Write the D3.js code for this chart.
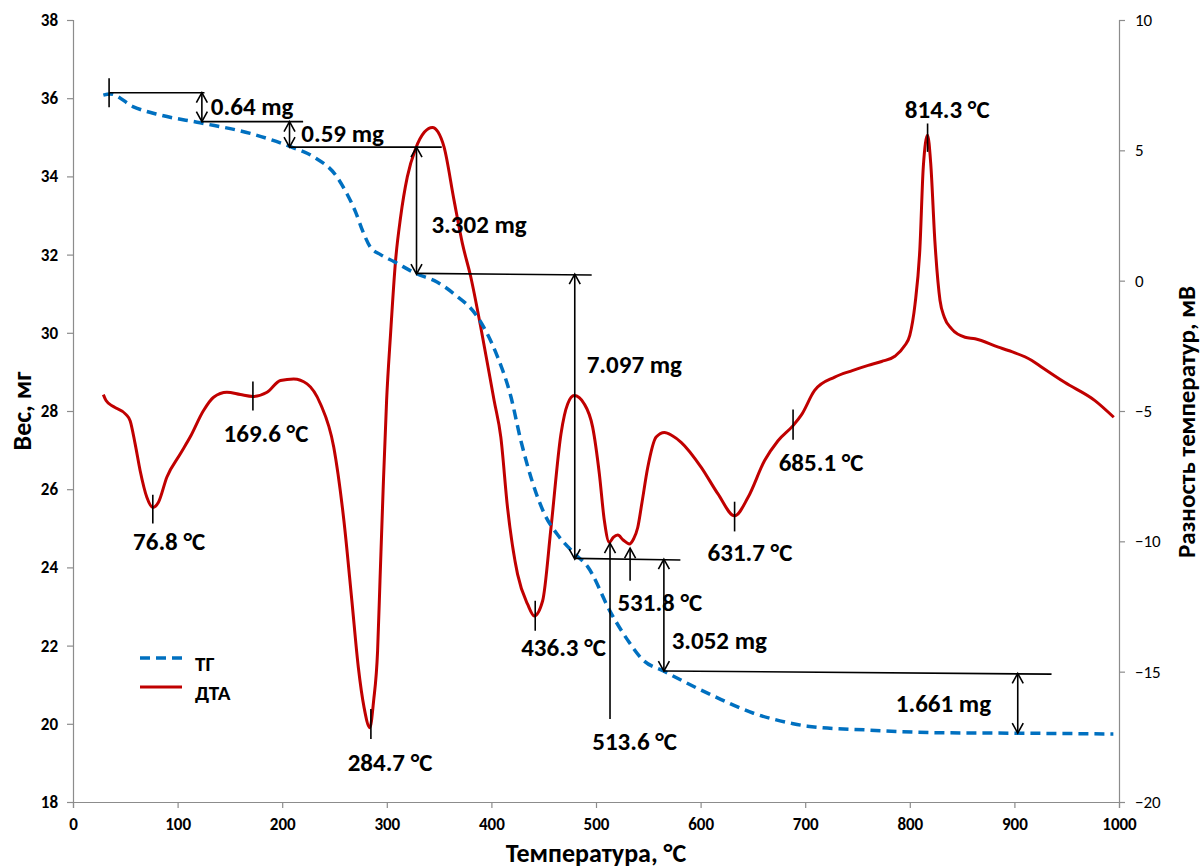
<!DOCTYPE html>
<html><head><meta charset="utf-8">
<script src="https://cdn.jsdelivr.net/npm/d3@7"></script>
<style>
body{margin:0;background:#fff}
text{font-family:Carlito,Calibri,Lato,sans-serif}
</style>
</head><body><div id="chart"></div>
<script>
// ТГ curve: temperature (°C) and weight (mg)
var tgT = [29,35.4,57.8,83.3,121.6,169.5,207.9,230,252,262,270,277,284,294,307,327.6,348,364,386.6,405.8,418.6,428,450.5,464.6,479.2,492,514.4,530.3,545,564.6,614,650.6,687.3,702,760.5,833.7,903,994.6];
var tgW = [36.08,36.11,35.78,35.57,35.37,35.1,34.76,34.5,34.0,33.55,33.1,32.6,32.2,32.0,31.82,31.52,31.3,31.0,30.41,29.39,28.37,27.26,25.38,24.79,24.36,24.02,22.83,22.14,21.63,21.35,20.69,20.27,20.01,19.94,19.84,19.77,19.76,19.74];

// ДТА curve: temperature (°C) and signal (mV)
var dtaT = [29,31.6,38.6,50.8,54.6,59.4,64.2,70.6,76.3,81.7,89.7,102.5,112,124.8,134.4,147.2,160,172,185.5,198.3,211,223.8,236.6,249.3,259,266.6,272.8,278.3,283.8,287.4,291.2,293.5,296.5,299.8,303.6,308.4,313.2,319.6,327.6,336,343.6,349,354.7,364.3,372.3,380.3,389.8,402.6,409,415.4,425,434.6,441,449,457,466.5,472.9,479.2,488.8,496.8,503.2,508,512.7,516.5,520.8,526,531.9,536,539.9,544,549.5,557.5,565.4,573,581.4,600.6,616.6,632.5,645.4,661.2,674,688.4,696.4,709,728.2,745,760.2,773,785.7,795,800,805,809.6,812.9,817,820,824,828.9,833,840,852.8,862.4,884.7,894.3,916.7,926.2,948,977,995];
var dtaV = [-4.37,-4.6,-4.83,-5.14,-5.37,-6.26,-7.29,-8.31,-8.7,-8.5,-7.54,-6.65,-6.0,-4.98,-4.47,-4.28,-4.37,-4.44,-4.28,-3.83,-3.77,-3.96,-4.73,-6.39,-9.21,-12.28,-14.84,-16.38,-17.15,-16.12,-14.2,-11.5,-8.0,-4.6,-2.04,0.78,2.44,3.98,5.07,5.7,5.88,5.7,5.13,3.08,1.42,0.14,-1.78,-4.6,-6.0,-8.7,-11.26,-12.41,-12.86,-12.28,-9.47,-5.88,-4.73,-4.41,-4.73,-5.62,-7.41,-9.21,-10.04,-9.85,-9.76,-9.95,-10.1,-9.9,-9.47,-8.5,-7.16,-6.0,-5.82,-5.95,-6.2,-7.16,-8.18,-9.02,-8.31,-6.9,-6.14,-5.56,-5.15,-4.21,-3.7,-3.45,-3.25,-3.1,-2.9,-2.5,-2.1,-0.9,1.2,4.36,5.58,4.5,1.5,-0.76,-1.4,-1.85,-2.17,-2.23,-2.55,-2.68,-3.06,-3.32,-3.9,-4.6,-5.24];

var xTicks = [0,100,200,300,400,500,600,700,800,900,1000];
var wTicks = [18,20,22,24,26,28,30,32,34,36,38];
var vTicks = [-20,-15,-10,-5,0,5,10];

// weight-loss steps (mg levels on the ТГ axis)
var stepT1 = [34.5,123,207,328.5,479.9,565];
var stepT2 = [125.7,220,352.5,495.9,580.7,935.5];
var stepW1 = [36.14,35.40,34.75,31.52,24.23,21.35];
var stepW2 = [36.14,35.40,34.75,31.48,24.19,21.27];
var arrowT = [123.2,207,328.4,479.7,564.9,903.2];
var arrowTop = [36.14,35.40,34.75,31.50,24.21,21.29];
var arrowBot = [35.40,34.75,31.50,24.21,21.35,19.76];
var stepText = ["0.64 mg","0.59 mg","3.302 mg","7.097 mg","3.052 mg","1.661 mg"];
var stepTextT = [131.8,218.3,342.7,491.1,572.3,786.6];
var stepTextW = [35.78,35.10,32.76,29.2,22.14,20.53];

// peak markers on the ДТА axis
var markT = [76.3,172,284.8,441.9,632.5,688.4,817];
var markTop = [-8.21,-3.87,-16.43,-12.28,-8.48,-4.94,6.03];
var markBot = [-9.32,-4.98,-17.58,-13.43,-9.62,-6.1,4.94];
var upT = [513.4,532.6];
var upFrom = [-16.82,-11.51];
var upTo = [-10.07,-10.26];
var peakText = ["76.8 °C","169.6 °C","284.7 °C","436.3 °C","513.6 °C","531.8 °C","631.7 °C","685.1 °C","814.3 °C"];
var peakT = [91.9,184.5,303.1,469,537,561,647.2,715.2,835.8];
var peakV = [-10.0,-5.87,-18.5,-14.09,-17.66,-12.35,-10.43,-6.97,6.57];

var W = 1200, H = 868;
var m = {left:73, right:81, top:20, bottom:66};

var svg = d3.select("#chart").append("svg")
            .attr("width", W)
            .attr("height", H);

var x = d3.scaleLinear().domain([0,1000]).range([m.left, W-m.right]);
var yW = d3.scaleLinear().domain([18,38]).range([H-m.bottom, m.top]);
var yV = d3.scaleLinear().domain([-20,10]).range([H-m.bottom, m.top]);

var axisCol = "#8c8c8c";

function styleAxis(g, weight){
  g.selectAll("path,line").attr("stroke", axisCol).attr("stroke-width", 1.2);
  g.selectAll("text").attr("fill","#000")
   .style("font-size","17px").style("font-weight", weight)
   .style("font-family","Carlito,Calibri,Lato,sans-serif");
}

var gx = svg.append("g").attr("transform","translate(0,"+(H-m.bottom)+")")
  .call(d3.axisBottom(x).tickValues(xTicks).tickFormat(d3.format("d")).tickSizeOuter(0).tickSize(6).tickPadding(10));
styleAxis(gx, "600");

var gl = svg.append("g").attr("transform","translate("+m.left+",0)")
  .call(d3.axisLeft(yW).tickValues(wTicks).tickSizeOuter(0).tickSize(6).tickPadding(9));
styleAxis(gl, "bold");

var gr = svg.append("g").attr("transform","translate("+(W-m.right)+",0)")
  .call(d3.axisRight(yV).tickValues(vTicks).tickSizeOuter(0).tickSize(6).tickPadding(10));
styleAxis(gr, "normal");

// axis titles
svg.append("text").text("Температура, °С")
   .attr("x", (m.left + W - m.right)/2).attr("y", 853)
   .attr("text-anchor","middle").attr("dominant-baseline","central")
   .style("font-size","26px").style("font-weight","bold");

svg.append("text").text("Вес, мг")
   .attr("transform","translate(22,"+((m.top+H-m.bottom)/2)+") rotate(-90)")
   .attr("text-anchor","middle").attr("dominant-baseline","central")
   .style("font-size","26px").style("font-weight","bold");

svg.append("text").text("Разность температур, мВ")
   .attr("transform","translate(1186,422) rotate(-90)")
   .attr("text-anchor","middle").attr("dominant-baseline","central")
   .style("font-size","25px").style("font-weight","bold");

// curves
var tgLine = d3.line().x(function(d){return x(d[0]);}).y(function(d){return yW(d[1]);}).curve(d3.curveMonotoneX);
var dtaLine = d3.line().x(function(d){return x(d[0]);}).y(function(d){return yV(d[1]);}).curve(d3.curveMonotoneX);

svg.append("path").datum(dtaT.map(function(t,i){return [t, dtaV[i]];}))
   .attr("d", dtaLine).attr("fill","none")
   .attr("stroke","#C00000").attr("stroke-width",3);

svg.append("path").datum(tgT.map(function(t,i){return [t, tgW[i]];}))
   .attr("d", tgLine).attr("fill","none")
   .attr("stroke","#0070C0").attr("stroke-width",3.5)
   .attr("stroke-dasharray","10,6");

// annotations
var ann = svg.append("g").attr("stroke","#000").attr("stroke-width",1.6).attr("fill","none");

function head(px, py, dir){ // dir -1 = points up, 1 = points down
  ann.append("path")
     .attr("d","M"+(px-5.5)+","+(py-dir*10)+"L"+px+","+py+"L"+(px+5.5)+","+(py-dir*10));
}

// first start marker
ann.append("line").attr("x1",x(34.5)).attr("x2",x(34.5))
   .attr("y1",yW(36.51)).attr("y2",yW(35.77));

stepT1.forEach(function(t,i){
  ann.append("line")
     .attr("x1",x(t)).attr("x2",x(stepT2[i]))
     .attr("y1",yW(stepW1[i])).attr("y2",yW(stepW2[i]));
  var ax = x(arrowT[i]), a1 = yW(arrowTop[i]), a2 = yW(arrowBot[i]);
  ann.append("line").attr("x1",ax).attr("x2",ax).attr("y1",a1).attr("y2",a2);
  head(ax, a1, -1);
  head(ax, a2, 1);
});

markT.forEach(function(t,i){
  ann.append("line").attr("x1",x(t)).attr("x2",x(t))
     .attr("y1",yV(markTop[i])).attr("y2",yV(markBot[i]));
});

upT.forEach(function(t,i){
  ann.append("line").attr("x1",x(t)).attr("x2",x(t))
     .attr("y1",yV(upFrom[i])).attr("y2",yV(upTo[i]));
  head(x(t), yV(upTo[i]), -1);
});

stepText.forEach(function(s,i){
  svg.append("text").text(s)
     .attr("x",x(stepTextT[i])).attr("y",yW(stepTextW[i]))
     .attr("dominant-baseline","central")
     .style("font-size","25px").style("font-weight","bold");
});

peakText.forEach(function(s,i){
  svg.append("text").text(s)
     .attr("x",x(peakT[i])).attr("y",yV(peakV[i]))
     .attr("text-anchor","middle").attr("dominant-baseline","central")
     .style("font-size","25px").style("font-weight","bold");
});

// legend
var leg = svg.append("g");
leg.append("line").attr("x1",140).attr("x2",182).attr("y1",658).attr("y2",658)
   .attr("stroke","#0070C0").attr("stroke-width",3.5).attr("stroke-dasharray","10,6");
leg.append("line").attr("x1",140).attr("x2",182).attr("y1",687).attr("y2",687)
   .attr("stroke","#C00000").attr("stroke-width",3);
leg.append("text").text("ТГ").attr("x",195).attr("y",664)
   .attr("dominant-baseline","central").style("font-size","21px").style("font-weight","bold");
leg.append("text").text("ДТА").attr("x",195).attr("y",693)
   .attr("dominant-baseline","central").style("font-size","21px").style("font-weight","bold");
</script>
</body></html>
